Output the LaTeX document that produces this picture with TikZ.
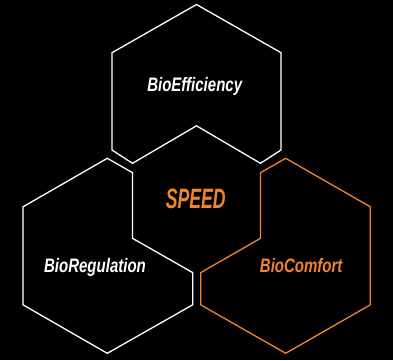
\documentclass[tikz,border=0pt]{standalone}
\usepackage{fontspec}
\newfontfamily\hexlabelfont[FakeStretch=0.77]{Liberation Sans}
\newfontfamily\hexspeedfont[FakeStretch=0.63]{Liberation Sans}
\definecolor{hexorange}{RGB}{240,133,45}
\tikzset{
  hexline/.style={draw=white, line width=1.3, line join=miter},
  hexlineorange/.style={draw=hexorange, line width=1.3, line join=miter},
  hexlabel/.style={anchor=base, inner sep=0.75pt, font=\hexlabelfont\bfseries\itshape\fontsize{19.5}{20}\selectfont},
}
\begin{document}
\begin{tikzpicture}[x=1pt,y=1pt,yscale=-1,xscale=1]
    %Shape: Background
    \fill[black] (0,0) rectangle (393,360);
    \useasboundingbox (0,0) rectangle (393,360);
    %Shape: Hexagon top
    \draw [hexline] (196.5,4.5) -- (281,52.7) -- (281,150) -- (260.5,163.3) -- (196.5,125.8) -- (132.5,163.3) -- (112,150) -- (112,52.7) -- cycle ;
    %Shape: Hexagon left
    \draw [hexline] (107.3,158.3) -- (23,206.8) -- (23,304.8) -- (107.3,353.3) -- (192.7,304.8) -- (192.7,272.6) -- (132.5,238.3) -- (132.5,172.7) -- cycle ;
    %Shape: Hexagon right
    \draw [hexlineorange] (285.7,158.3) -- (370.3,206.8) -- (370.3,304.8) -- (285.7,353.3) -- (200.7,304.8) -- (200.7,272.6) -- (260.5,238.3) -- (260.5,172.7) -- cycle ;

    % Text Node
    \node [hexlabel, text=white] (efficiency) at (194.7,91.3) {BioEfficiency};
    % Text Node
    \node [hexlabel, text=hexorange, font=\hexspeedfont\bfseries\itshape\fontsize{28}{30}\selectfont] (speed) at (195.7,208.3) {SPEED};
    % Text Node
    \node [hexlabel, text=white] (regulation) at (95,272) {BioRegulation};
    % Text Node
    \node [hexlabel, text=hexorange] (comfort) at (301.2,272) {BioComfort};
\end{tikzpicture}
\end{document}
